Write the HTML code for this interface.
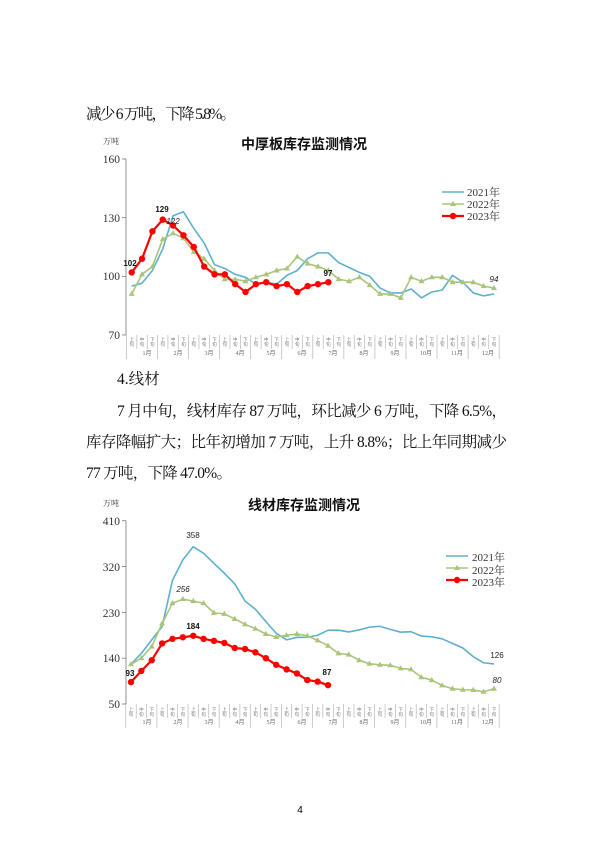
<!DOCTYPE html>
<html><head><meta charset="utf-8"><style>
html,body{margin:0;padding:0;background:#fff}
svg{display:block}
.b{font-family:"Liberation Serif","Noto Serif CJK SC",serif;font-size:15.5px;fill:#111}
.t{font-family:"Liberation Sans","Noto Sans CJK SC",sans-serif;font-size:14px;font-weight:bold;fill:#111}
.yl{font-family:"Liberation Serif",serif;font-size:11.5px;fill:#333}
.u{font-family:"Liberation Serif","Noto Serif CJK SC",serif;font-size:8px;fill:#333}
.lg{font-family:"Liberation Serif","Noto Serif CJK SC",serif;font-size:11px;fill:#333}
.dl{font-family:"Liberation Sans",sans-serif;font-size:8px;font-weight:bold;fill:#111}
.di{font-family:"Liberation Sans",sans-serif;font-size:8px;font-style:italic;fill:#222}
.c{font-family:"Noto Sans CJK SC",sans-serif;font-size:4.5px;fill:#777}
.m{font-family:"Liberation Serif","Noto Sans CJK SC",serif;font-size:6px;fill:#666}
</style></head><body>
<svg id="s" width="600" height="849" viewBox="0 0 600 849" xmlns="http://www.w3.org/2000/svg">
<text class="b" x="86" y="119" textLength="150">减少 6 万吨，下降 5.8%。</text>
<text class="b" x="117" y="384">4.线材</text>
<text class="b" x="117" y="416" textLength="390" lengthAdjust="spacing">7 月中旬，线材库存 87 万吨，环比减少 6 万吨，下降 6.5%，</text>
<text class="b" x="86" y="447" textLength="421" lengthAdjust="spacing">库存降幅扩大；比年初增加 7 万吨，上升 8.8%；比上年同期减少</text>
<text class="b" x="86" y="478" textLength="146" lengthAdjust="spacing">77 万吨，下降 47.0%。</text>
<text x="300" y="813" font-family="Liberation Sans,sans-serif" font-size="10" text-anchor="middle">4</text>

<!-- chart 1 -->
<text class="u" x="103" y="144">万吨</text>
<text class="t" x="304" y="149" text-anchor="middle">中厚板库存监测情况</text>
<text class="yl" x="120" y="163" text-anchor="end">160</text>
<text class="yl" x="120" y="222" text-anchor="end">130</text>
<text class="yl" x="120" y="280" text-anchor="end">100</text>
<text class="yl" x="120" y="339" text-anchor="end">70</text>
<g id="g1"></g>
<text class="lg" x="467" y="196">2021年</text>
<text class="lg" x="467" y="208">2022年</text>
<text class="lg" x="467" y="220">2023年</text>
<text class="dl" x="130" y="266" text-anchor="middle">102</text>
<text class="dl" x="162" y="212" text-anchor="middle">129</text>
<text class="di" x="173" y="224" text-anchor="middle">122</text>
<text class="dl" x="328" y="276" text-anchor="middle">97</text>
<text class="di" x="494" y="282" text-anchor="middle">94</text>

<!-- chart 2 -->
<text class="u" x="103" y="506">万吨</text>
<text class="t" x="304" y="510" text-anchor="middle">线材库存监测情况</text>
<text class="yl" x="120" y="525" text-anchor="end">410</text>
<text class="yl" x="120" y="571" text-anchor="end">320</text>
<text class="yl" x="120" y="617" text-anchor="end">230</text>
<text class="yl" x="120" y="662" text-anchor="end">140</text>
<text class="yl" x="120" y="708" text-anchor="end">50</text>
<g id="g2"></g>
<text class="lg" x="472" y="561">2021年</text>
<text class="lg" x="472" y="574">2022年</text>
<text class="lg" x="472" y="586">2023年</text>
<text class="di" x="193" y="538" text-anchor="middle" style="font-style:normal;font-weight:normal">358</text>
<text class="di" x="183" y="592" text-anchor="middle">256</text>
<text class="dl" x="193" y="629" text-anchor="middle">184</text>
<text class="dl" x="130" y="676" text-anchor="middle">93</text>
<text class="dl" x="327" y="675" text-anchor="middle">87</text>
<text class="di" x="497" y="658" text-anchor="middle" style="font-style:normal;font-weight:normal">126</text>
<text class="di" x="497" y="683" text-anchor="middle">80</text>

<!-- x category labels chart1 -->
<g id="cat1">
<text class="m" x="147" y="355" text-anchor="middle">1月</text><text class="m" x="178" y="355" text-anchor="middle">2月</text><text class="m" x="209" y="355" text-anchor="middle">3月</text><text class="m" x="240" y="355" text-anchor="middle">4月</text><text class="m" x="271" y="355" text-anchor="middle">5月</text><text class="m" x="302" y="355" text-anchor="middle">6月</text><text class="m" x="333" y="355" text-anchor="middle">7月</text><text class="m" x="364" y="355" text-anchor="middle">8月</text><text class="m" x="395" y="355" text-anchor="middle">9月</text><text class="m" x="426" y="355" text-anchor="middle">10月</text><text class="m" x="457" y="355" text-anchor="middle">11月</text><text class="m" x="488" y="355" text-anchor="middle">12月</text>
</g>
<g id="cat2">
<text class="m" x="147" y="724" text-anchor="middle">1月</text><text class="m" x="178" y="724" text-anchor="middle">2月</text><text class="m" x="209" y="724" text-anchor="middle">3月</text><text class="m" x="240" y="724" text-anchor="middle">4月</text><text class="m" x="271" y="724" text-anchor="middle">5月</text><text class="m" x="302" y="724" text-anchor="middle">6月</text><text class="m" x="333" y="724" text-anchor="middle">7月</text><text class="m" x="364" y="724" text-anchor="middle">8月</text><text class="m" x="395" y="724" text-anchor="middle">9月</text><text class="m" x="426" y="724" text-anchor="middle">10月</text><text class="m" x="457" y="724" text-anchor="middle">11月</text><text class="m" x="488" y="724" text-anchor="middle">12月</text>
</g>
<g id="sub">
<!-- 上/中/下 旬 markers, chart1 -->
<text class="c" x="131" y="341" text-anchor="middle">上</text><text class="c" x="131" y="346" text-anchor="middle">旬</text>
<text class="c" x="142" y="341" text-anchor="middle">中</text><text class="c" x="142" y="346" text-anchor="middle">旬</text>
<text class="c" x="152" y="341" text-anchor="middle">下</text><text class="c" x="152" y="346" text-anchor="middle">旬</text>
</g>
</svg>
<script>
var NS="http://www.w3.org/2000/svg";
function el(p,n,a){var e=document.createElementNS(NS,n);for(var k in a)e.setAttribute(k,a[k]);p.appendChild(e);return e;}
function chart(g,x0,dx,ytop,ybot,vmax,vmin,ticks,d21,d22,d23,lx,ly,yc){
  var X=function(i){return x0+i*dx},Y=function(v){return ytop+(vmax-v)*(ybot-ytop)/(vmax-vmin)};
  el(g,"line",{x1:126,y1:ytop,x2:126,y2:ybot,stroke:"#777","stroke-width":0.8});
  ticks.forEach(function(t){el(g,"line",{x1:122,y1:Y(t),x2:126,y2:Y(t),stroke:"#777","stroke-width":0.8})});
  for(var i=0;i<=36;i++){var xx=x0-dx/2+i*dx;el(g,"line",{x1:xx,y1:ybot,x2:xx,y2:ybot+(i%3==0?yc:14),stroke:"#aaa","stroke-width":0.6});}
  function pl(d,c,w){el(g,"polyline",{points:d.map(function(v,i){return X(i)+","+Y(v)}).join(" "),fill:"none",stroke:c,"stroke-width":w,"stroke-linejoin":"round"});}
  pl(d21,"#5fb0cc",1.6);
  pl(d22,"#a8c57a",1.6);
  d22.forEach(function(v,i){var x=X(i),y=Y(v);el(g,"polygon",{points:(x)+","+(y-3.2)+" "+(x-3)+","+(y+2)+" "+(x+3)+","+(y+2),fill:"#a8c57a"})});
  pl(d23,"#ff0000",2.2);
  d23.forEach(function(v,i){el(g,"circle",{cx:X(i),cy:Y(v),r:3.2,fill:"#ff0000"})});
  // legend
  el(g,"line",{x1:lx,y1:ly,x2:lx+22,y2:ly,stroke:"#5fb0cc","stroke-width":1.6});
  el(g,"line",{x1:lx,y1:ly+12,x2:lx+22,y2:ly+12,stroke:"#a8c57a","stroke-width":1.6});
  el(g,"polygon",{points:(lx+11)+","+(ly+8.8)+" "+(lx+8)+","+(ly+14)+" "+(lx+14)+","+(ly+14),fill:"#a8c57a"});
  el(g,"line",{x1:lx,y1:ly+24,x2:lx+22,y2:ly+24,stroke:"#ff0000","stroke-width":2.2});
  el(g,"circle",{cx:lx+11,cy:ly+24,r:3.2,fill:"#ff0000"});
}
chart(document.getElementById("g1"),131.7,10.35,159,335,160,70,[160,130,100,70],
[95,96.5,103,114,131,133,124.5,117,106,104,101,99.5,96,97,96,100.5,103,109,112,112,107,104.5,102,100,94,91.5,91.5,93.5,89,92,93,100.5,97,91.5,90,91],
[91,101,105,119,122,119.5,112.5,109,103,98.5,98.5,97.5,99.5,101,103,104,110,106.5,105,103,98.5,97.5,99.5,95.5,91,91,89,99.5,97.5,99.5,99.5,97,97,97,95,94],
[102,109,123,129,126,121,115,105,101,101,96,92,96,97,95,96,92,95,96,97],442,192,24);
chart(document.getElementById("g2"),131,10.37,520.7,704,410,50,[410,320,230,140,50],
[128,149.5,176,202,293,333,359,346,326,307,286,252,236,212,189,176,181,181,185,195,195,191.5,195.5,201,202.5,196.5,191,192,183.5,182,178,169,160,143,131,128.6],
[128,140,163,208,248,256,252,248,229,227,217,206.5,198,187.5,181.5,185,187.5,184,175,164.5,149.5,147,136,129,127,126,120,118,102.5,97,86.5,80,78,77.5,74,80],
[93,115,136,169,178,181,184,178,174,170,160,158,151.5,140,127,118,110,97,94,87],446,556,24);
// sub-labels for all categories
var sub=document.getElementById("sub");sub.innerHTML="";
[[131.7,10.35,341],[131,10.37,711]].forEach(function(c){
 for(var i=0;i<36;i++){var x=c[0]+i*c[1];var a=["上","中","下"][i%3];
  el(sub,"text",{"class":"c",x:x,y:c[2],"text-anchor":"middle"}).textContent=a;
  el(sub,"text",{"class":"c",x:x,y:c[2]+5,"text-anchor":"middle"}).textContent="旬";}
});
</script>
</body></html>
